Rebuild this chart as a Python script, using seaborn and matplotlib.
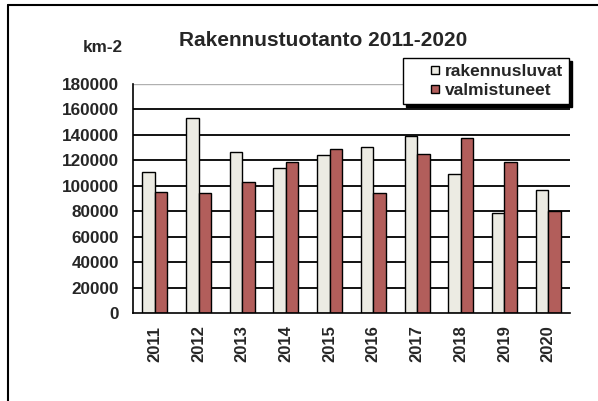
import pandas as pd
import seaborn as sns
import matplotlib.pyplot as plt
from matplotlib.lines import Line2D
from matplotlib.patches import Rectangle
from matplotlib.legend_handler import HandlerPatch

# Data
years = ["2011", "2012", "2013", "2014", "2015", "2016", "2017", "2018", "2019", "2020"]
rakennusluvat = [110500, 153400, 126200, 113900, 123800, 130400, 139300, 109400, 78500, 96300]
valmistuneet = [95500, 94200, 102900, 118600, 128800, 94200, 125100, 137700, 118600, 79800]
series_names = ["rakennusluvat", "valmistuneet"]
colors = ["#EEECE1", "#C0504D"]
y_ticks = list(range(0, 180001, 20000))

df = pd.DataFrame({
    "year": years * 2,
    "value": rakennusluvat + valmistuneet,
    "series": [series_names[0]] * len(years) + [series_names[1]] * len(years),
})

sns.set_style("white")
plt.rcParams["font.family"] = ["Liberation Sans", "DejaVu Sans"]
plt.rcParams["font.weight"] = "bold"

fig = plt.figure(figsize=(5.98, 4.01), dpi=100)
ax = fig.add_axes([133 / 598, 1 - 313 / 401, (570 - 133) / 598, (313 - 84) / 401])

# Gridlines behind bars
for t in y_ticks[1:-1]:
    ax.axhline(t, color="black", linewidth=1.3, zorder=0)
ax.axhline(180000, color="#b0b0b0", linewidth=1.0, zorder=0)

sns.barplot(
    data=df, x="year", y="value", hue="series",
    palette=colors, width=0.57, edgecolor="black", linewidth=1.0,
    ax=ax, zorder=2,
)

ax.set_ylim(0, 180000)
ax.set_xlim(-0.5, len(years) - 0.5)
ax.set_yticks(y_ticks)
ax.set_yticklabels([str(t) for t in y_ticks], fontsize=12.3, fontweight="bold")
ax.set_xticks(range(len(years)))
ax.set_xticklabels(years, rotation=90, fontsize=12, fontweight="bold")
ax.set_xticks([i - 0.5 for i in range(len(years) + 1)], minor=True)
ax.tick_params(axis="x", which="major", length=0, pad=9)
ax.tick_params(axis="x", which="minor", length=5, width=1.2, direction="out", color="black")
ax.tick_params(axis="y", length=4, width=1.2, direction="out", color="black", pad=6)
ax.set_xlabel("")
ax.set_ylabel("")
for side in ["top", "right"]:
    ax.spines[side].set_visible(False)
for side in ["left", "bottom"]:
    ax.spines[side].set_color("black")
    ax.spines[side].set_linewidth(1.2)


# small square legend marker drawn at the right end of the handle area
def square_right(legend, orig_handle, xdescent, ydescent, width, height, fontsize):
    s = 6.0
    return Rectangle((-xdescent + width - s, -ydescent + (height - s) / 2), s, s)


leg = ax.legend(
    title=None, loc="upper left", bbox_to_anchor=(403 / 598, 1 - 58 / 401),
    bbox_transform=fig.transFigure, frameon=True, fancybox=False,
    shadow={"color": "black", "alpha": 1.0}, fontsize=12.5,
    handlelength=1.75, handleheight=0.7, handletextpad=0.3,
    borderpad=0.35, labelspacing=0.2, borderaxespad=0,
    handler_map={Rectangle: HandlerPatch(patch_func=square_right)},
)
leg.get_frame().set_edgecolor("black")
leg.get_frame().set_linewidth(1.0)
for txt in leg.get_texts():
    txt.set_fontweight("bold")

fig.text(323 / 598, 1 - 40 / 401, "Rakennustuotanto 2011-2020",
         ha="center", va="center", fontsize=15, fontweight="bold")
fig.text(103 / 598, 1 - 48 / 401, "km-2",
         ha="center", va="center", fontsize=12.3, fontweight="bold")

# Outer chart border (top and left)
fig.add_artist(Line2D([8 / 598, 1], [1 - 5 / 401, 1 - 5 / 401], color="black", linewidth=1.5, transform=fig.transFigure))
fig.add_artist(Line2D([8 / 598, 8 / 598], [0, 1 - 5 / 401], color="black", linewidth=1.5, transform=fig.transFigure))

fig.savefig("out.png", dpi=100)
